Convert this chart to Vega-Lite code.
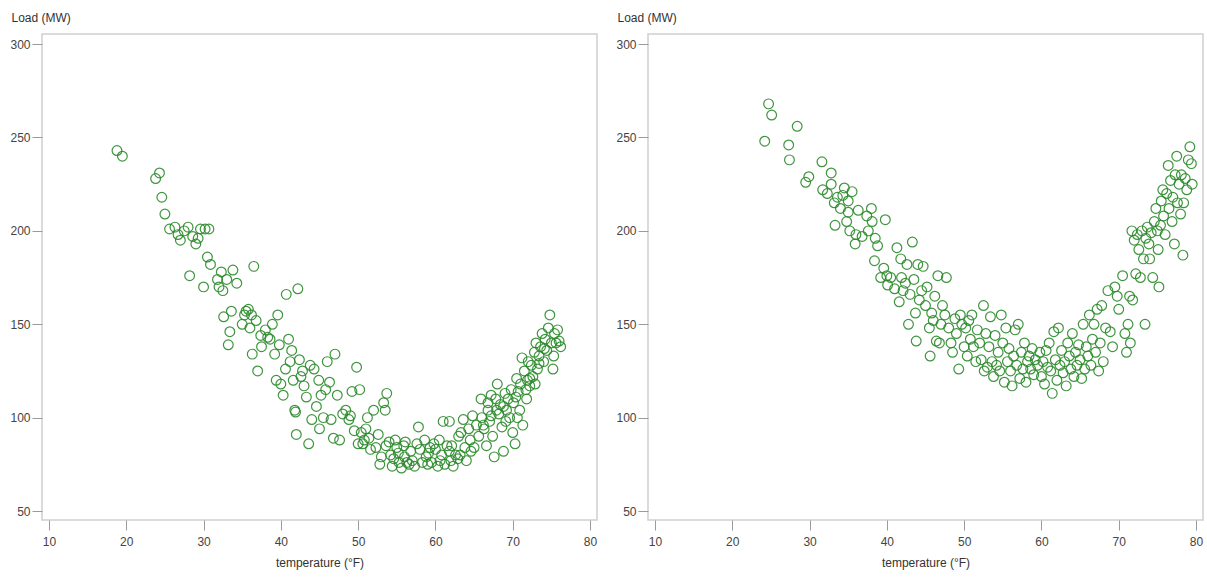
{
  "$schema": "https://vega.github.io/schema/vega-lite/v6.json",
  "background": "white",
  "padding": {"left": 9, "top": 10, "right": 5, "bottom": 5},
  "spacing": 17,
  "config": {
    "font": "Liberation Sans",
    "view": {"stroke": "#d0d0d0", "strokeWidth": 1.5},
    "axis": {
      "domain": false,
      "grid": false,
      "tickColor": "#9a9a9a",
      "tickSize": 10,
      "labelFont": "Liberation Sans",
      "labelFontSize": 12,
      "labelColor": "#444",
      "titleFont": "Liberation Sans",
      "titleFontSize": 12,
      "titleFontWeight": "normal",
      "titleColor": "#333"
    },
    "axisX": {"labelPadding": 6, "titlePadding": 10},
    "axisY": {"labelPadding": 2, "titleAngle": 0, "titleAlign": "left", "titleBaseline": "middle", "titleX": -31, "titleY": -17}
  },
  "datasets": {
    "a": [
      {"t":18.8,"l":243},{"t":19.5,"l":240},{"t":23.8,"l":228},{"t":24.3,"l":231},{"t":24.6,"l":218},{"t":25,"l":209},{"t":25.6,"l":201},
      {"t":26.3,"l":202},{"t":26.7,"l":198},{"t":27,"l":195},{"t":27.5,"l":200},{"t":28,"l":202},{"t":28.2,"l":176},{"t":28.6,"l":197},{"t":29,"l":193},{"t":29.3,"l":196},{"t":29.6,"l":201},{"t":30,"l":170},{"t":30.2,"l":201},{"t":30.7,"l":201},{"t":30.5,"l":186},{"t":30.9,"l":182},
      {"t":31.8,"l":174},{"t":32,"l":170},{"t":32.3,"l":178},{"t":32.5,"l":168},{"t":32.6,"l":154},{"t":33,"l":174},{"t":33.2,"l":139},{"t":33.4,"l":146},{"t":33.6,"l":157},{"t":33.8,"l":179},{"t":34.3,"l":172},
      {"t":35,"l":150},{"t":35.3,"l":155},{"t":35.5,"l":157},{"t":35.8,"l":158},{"t":36.2,"l":155},{"t":36,"l":148},{"t":36.3,"l":134},{"t":36.5,"l":181},{"t":36.8,"l":152},{"t":37,"l":125},{"t":37.4,"l":144},{"t":37.5,"l":138},{"t":38,"l":147},{"t":38.3,"l":143},{"t":38.6,"l":142},{"t":38.9,"l":150},{"t":39.2,"l":134},{"t":39.4,"l":120},{"t":39.6,"l":155},{"t":39.8,"l":139},
      {"t":40,"l":118},{"t":40.3,"l":112},{"t":40.6,"l":126},{"t":40.7,"l":166},{"t":41,"l":142},{"t":41.2,"l":130},{"t":41.4,"l":136},{"t":41.6,"l":120},{"t":41.8,"l":104},{"t":42,"l":91},{"t":42.2,"l":169},{"t":42.4,"l":131},{"t":42.6,"l":122},{"t":43,"l":117},{"t":43.3,"l":111},{"t":43.6,"l":86},{"t":43.8,"l":128},{"t":44,"l":99},{"t":44.3,"l":126},{"t":44.6,"l":106},{"t":45,"l":94},{"t":45.2,"l":112},{"t":45.5,"l":100},{"t":45.8,"l":115},{"t":46,"l":130},{"t":46.3,"l":119},{"t":46.5,"l":99},{"t":46.8,"l":89},{"t":47,"l":134},{"t":47.3,"l":112},{"t":47.6,"l":88},{"t":48,"l":102},{"t":48.4,"l":104},{"t":48.8,"l":99},{"t":49.2,"l":114},{"t":49.5,"l":93},{"t":49.8,"l":127},{"t":50,"l":86},{"t":50.2,"l":115},
      {"t":50.4,"l":92},{"t":50.6,"l":86},{"t":50.8,"l":88},{"t":51,"l":94},{"t":51.4,"l":89},{"t":51.6,"l":83},{"t":52,"l":104},{"t":52.3,"l":84},{"t":52.6,"l":91},{"t":52.8,"l":75},{"t":53,"l":79},{"t":53.3,"l":108},{"t":53.5,"l":104},{"t":53.7,"l":113},{"t":54,"l":87},{"t":54.2,"l":80},{"t":54.4,"l":74},{"t":54.6,"l":78},{"t":54.8,"l":88},{"t":55,"l":84},{"t":55.3,"l":76},{"t":55.6,"l":73},{"t":55.9,"l":85},{"t":56,"l":79},{"t":56.3,"l":76},{"t":56.6,"l":75},{"t":57,"l":77},{"t":57.3,"l":74},{"t":57.6,"l":86},{"t":57.8,"l":95},{"t":58,"l":83},{"t":58.3,"l":76},{"t":58.6,"l":88},{"t":59,"l":75},{"t":59.3,"l":84},{"t":59.5,"l":76},{"t":59.8,"l":86},{"t":60,"l":83},{"t":60.3,"l":74},{"t":60.5,"l":88},{"t":60.8,"l":80},{"t":61,"l":98},{"t":61.2,"l":75},{"t":61.5,"l":85},{"t":61.8,"l":98},{"t":62,"l":77},{"t":62.3,"l":74},{"t":62.6,"l":80},{"t":62.9,"l":78},{"t":63,"l":90},{"t":63.3,"l":92},{"t":63.6,"l":99},{"t":63.8,"l":84},{"t":64,"l":77},{"t":64.3,"l":94},{"t":64.5,"l":88},{"t":64.8,"l":101},{"t":65,"l":84},{"t":65.3,"l":96},{"t":65.6,"l":90},{"t":65.9,"l":110},{"t":66,"l":100},{"t":66.3,"l":94},{"t":66.6,"l":85},{"t":66.8,"l":104},{"t":67,"l":98},{"t":67.2,"l":112},{"t":67.4,"l":90},{"t":67.6,"l":79},{"t":67.8,"l":110},{"t":68,"l":118},{"t":68.2,"l":102},{"t":68.4,"l":107},{"t":68.6,"l":95},{"t":68.8,"l":82},{"t":69,"l":113},{"t":69.2,"l":104},{"t":69.4,"l":110},{"t":69.6,"l":100},{"t":69.8,"l":115},{"t":70,"l":92},{"t":70.1,"l":108},{"t":70.3,"l":86},{"t":70.5,"l":121},{"t":70.7,"l":114},{"t":70.9,"l":104},{"t":71,"l":118},{"t":71.2,"l":132},{"t":71.3,"l":96},{"t":71.5,"l":125},{"t":71.7,"l":115},{"t":71.9,"l":120},{"t":72,"l":130},{"t":72.2,"l":117},{"t":72.4,"l":128},{"t":72.6,"l":122},{"t":72.8,"l":135},{"t":73,"l":140},{"t":73.2,"l":126},{"t":73.4,"l":133},{"t":73.6,"l":138},{"t":73.8,"l":145},{"t":74,"l":130},{"t":74.2,"l":142},{"t":74.4,"l":136},{"t":74.6,"l":148},{"t":74.8,"l":155},{"t":75,"l":140},{"t":75.2,"l":126},{"t":75.4,"l":145},{"t":75.6,"l":140},{"t":75.8,"l":147},{"t":76,"l":141},{"t":76.2,"l":138},
      {"t":55.2,"l":81},{"t":56.8,"l":82},{"t":58.8,"l":79},{"t":60.6,"l":77},{"t":61.8,"l":82},{"t":63.2,"l":80},{"t":64.6,"l":82},{"t":66.2,"l":96},{"t":67.2,"l":101},{"t":68.8,"l":106},{"t":70.4,"l":111},{"t":72.2,"l":121},{"t":73.4,"l":129},{"t":53.6,"l":85},{"t":51.2,"l":100},{"t":49,"l":101},
      {"t":66.8,"l":108},{"t":67.9,"l":104},{"t":69.1,"l":98},{"t":70.6,"l":100},{"t":71.8,"l":110},{"t":72.9,"l":118},{"t":74.1,"l":137},{"t":75.3,"l":133},{"t":56.1,"l":87},{"t":59.1,"l":81},{"t":62.1,"l":85},{"t":41.9,"l":103},{"t":42.8,"l":125},{"t":44.9,"l":120}
    ],
    "b": [
      {"t":24.2,"l":248},{"t":24.7,"l":268},{"t":25.1,"l":262},{"t":27.3,"l":246},{"t":27.4,"l":238},{"t":28.4,"l":256},
      {"t":29.5,"l":226},{"t":29.9,"l":229},{"t":31.6,"l":237},{"t":31.7,"l":222},{"t":32.3,"l":220},{"t":32.8,"l":225},{"t":32.8,"l":231},{"t":33.2,"l":215},{"t":33.3,"l":203},{"t":33.6,"l":218},{"t":34,"l":212},{"t":34.3,"l":219},{"t":34.5,"l":223},{"t":34.8,"l":205},{"t":35,"l":216},{"t":35,"l":210},{"t":35.2,"l":200},{"t":35.5,"l":221},{"t":35.9,"l":193},{"t":36,"l":198},{"t":36.3,"l":211},{"t":36.8,"l":197},{"t":37.4,"l":208},{"t":37.6,"l":200},{"t":38,"l":212},{"t":38.1,"l":205},{"t":38.4,"l":184},{"t":38.5,"l":196},{"t":38.8,"l":192},{"t":39.2,"l":175},{"t":39.6,"l":180},{"t":39.8,"l":206},{"t":40.1,"l":171},{"t":40,"l":176},{"t":40.5,"l":175},{"t":41,"l":169},{"t":41.3,"l":191},{"t":41.6,"l":162},{"t":41.8,"l":185},{"t":41.9,"l":175},{"t":42.1,"l":168},{"t":42.4,"l":172},{"t":42.6,"l":182},{"t":42.8,"l":150},{"t":43,"l":166},{"t":43.3,"l":194},{"t":43.5,"l":174},{"t":43.7,"l":156},{"t":43.8,"l":141},{"t":44,"l":182},{"t":44.2,"l":163},{"t":44.5,"l":168},{"t":44.7,"l":181},{"t":45,"l":160},{"t":45.2,"l":170},{"t":45.5,"l":148},{"t":45.6,"l":133},{"t":45.8,"l":156},{"t":46,"l":152},{"t":46.2,"l":165},{"t":46.4,"l":141},{"t":46.6,"l":176},{"t":46.8,"l":140},{"t":47,"l":150},{"t":47.2,"l":160},{"t":47.5,"l":155},{"t":47.7,"l":175},{"t":48,"l":148},{"t":48.3,"l":140},{"t":48.5,"l":135},{"t":48.8,"l":153},{"t":49,"l":145},{"t":49.3,"l":126},{"t":49.5,"l":155},{"t":49.7,"l":150},{"t":50,"l":138},{"t":50.2,"l":148},{"t":50.4,"l":133},{"t":50.6,"l":152},{"t":50.8,"l":142},{"t":51,"l":155},{"t":51.2,"l":138},{"t":51.5,"l":130},{"t":51.7,"l":147},{"t":52,"l":140},{"t":52.2,"l":131},{"t":52.5,"l":160},{"t":52.6,"l":125},{"t":52.8,"l":145},{"t":53,"l":127},{"t":53.2,"l":138},{"t":53.4,"l":154},{"t":53.6,"l":130},{"t":53.8,"l":122},{"t":54,"l":144},{"t":54.2,"l":128},{"t":54.4,"l":135},{"t":54.6,"l":125},{"t":54.8,"l":155},{"t":55,"l":140},{"t":55.2,"l":119},{"t":55.4,"l":148},{"t":55.6,"l":130},{"t":55.8,"l":137},{"t":56,"l":125},{"t":56.2,"l":117},{"t":56.4,"l":133},{"t":56.6,"l":147},{"t":56.8,"l":128},{"t":57,"l":150},{"t":57.2,"l":121},{"t":57.4,"l":135},{"t":57.6,"l":126},{"t":57.8,"l":140},{"t":58,"l":119},{"t":58.2,"l":130},{"t":58.4,"l":133},{"t":58.6,"l":126},{"t":58.8,"l":137},{"t":59,"l":123},{"t":59.2,"l":131},{"t":59.5,"l":128},{"t":59.8,"l":135},{"t":60,"l":122},{"t":60.2,"l":130},{"t":60.4,"l":118},{"t":60.6,"l":136},{"t":60.8,"l":127},{"t":61,"l":140},{"t":61.2,"l":125},{"t":61.4,"l":113},{"t":61.6,"l":146},{"t":61.8,"l":131},{"t":62,"l":120},{"t":62.2,"l":148},{"t":62.4,"l":128},{"t":62.6,"l":136},{"t":62.8,"l":124},{"t":63,"l":130},{"t":63.2,"l":117},{"t":63.4,"l":140},{"t":63.6,"l":133},{"t":63.8,"l":126},{"t":64,"l":145},{"t":64.2,"l":122},{"t":64.4,"l":135},{"t":64.6,"l":128},{"t":64.8,"l":139},{"t":65,"l":131},{"t":65.2,"l":121},{"t":65.4,"l":150},{"t":65.6,"l":126},{"t":65.8,"l":138},{"t":66,"l":133},{"t":66.2,"l":155},{"t":66.4,"l":128},{"t":66.6,"l":142},{"t":66.8,"l":150},{"t":67,"l":135},{"t":67.2,"l":158},{"t":67.4,"l":125},{"t":67.6,"l":140},{"t":67.8,"l":160},{"t":68,"l":130},{"t":68.3,"l":148},{"t":68.6,"l":168},{"t":68.9,"l":146},{"t":69.2,"l":138},{"t":69.5,"l":170},{"t":69.8,"l":165},{"t":70,"l":158},{"t":70.5,"l":176},{"t":70.8,"l":145},{"t":71,"l":135},{"t":71.2,"l":150},{"t":71.4,"l":165},{"t":71.5,"l":140},{"t":71.7,"l":200},{"t":71.8,"l":163},{"t":72,"l":195},{"t":72.2,"l":177},{"t":72.4,"l":198},{"t":72.6,"l":190},{"t":72.8,"l":175},{"t":73,"l":200},{"t":73.2,"l":185},{"t":73.4,"l":150},{"t":73.5,"l":196},{"t":73.7,"l":202},{"t":73.9,"l":193},{"t":74,"l":185},{"t":74.2,"l":199},{"t":74.4,"l":175},{"t":74.6,"l":205},{"t":74.8,"l":212},{"t":75,"l":200},{"t":75.1,"l":190},{"t":75.2,"l":170},{"t":75.4,"l":203},{"t":75.5,"l":216},{"t":75.7,"l":222},{"t":75.8,"l":208},{"t":76,"l":198},{"t":76.2,"l":220},{"t":76.4,"l":235},{"t":76.5,"l":212},{"t":76.7,"l":227},{"t":76.9,"l":205},{"t":77,"l":218},{"t":77.2,"l":193},{"t":77.3,"l":230},{"t":77.5,"l":240},{"t":77.6,"l":215},{"t":77.8,"l":225},{"t":78,"l":209},{"t":78.1,"l":230},{"t":78.3,"l":187},{"t":78.4,"l":215},{"t":78.6,"l":228},{"t":78.8,"l":222},{"t":79,"l":238},{"t":79.2,"l":245},{"t":79.4,"l":236},{"t":79.5,"l":225}
    ]
  },
  "hconcat": [
    {
      "width": 555,
      "height": 486,
      "data": {"name": "a"},
      "mark": {"type": "point", "shape": "circle", "filled": false, "size": 95, "strokeWidth": 1.2, "color": "#2b8a2b", "opacity": 0.9},
      "encoding": {
        "x": {"field": "t", "type": "quantitative", "scale": {"domain": [9.1, 80.9], "nice": false, "zero": false}, "axis": {"values": [10, 20, 30, 40, 50, 60, 70, 80], "title": "temperature (°F)"}},
        "y": {"field": "l", "type": "quantitative", "scale": {"domain": [45.2, 305.4], "nice": false, "zero": false}, "axis": {"values": [50, 100, 150, 200, 250, 300], "title": "Load (MW)"}}
      }
    },
    {
      "width": 555,
      "height": 486,
      "data": {"name": "b"},
      "mark": {"type": "point", "shape": "circle", "filled": false, "size": 95, "strokeWidth": 1.2, "color": "#2b8a2b", "opacity": 0.9},
      "encoding": {
        "x": {"field": "t", "type": "quantitative", "scale": {"domain": [9.1, 80.9], "nice": false, "zero": false}, "axis": {"values": [10, 20, 30, 40, 50, 60, 70, 80], "title": "temperature (°F)"}},
        "y": {"field": "l", "type": "quantitative", "scale": {"domain": [45.2, 305.4], "nice": false, "zero": false}, "axis": {"values": [50, 100, 150, 200, 250, 300], "title": "Load (MW)"}}
      }
    }
  ]
}
